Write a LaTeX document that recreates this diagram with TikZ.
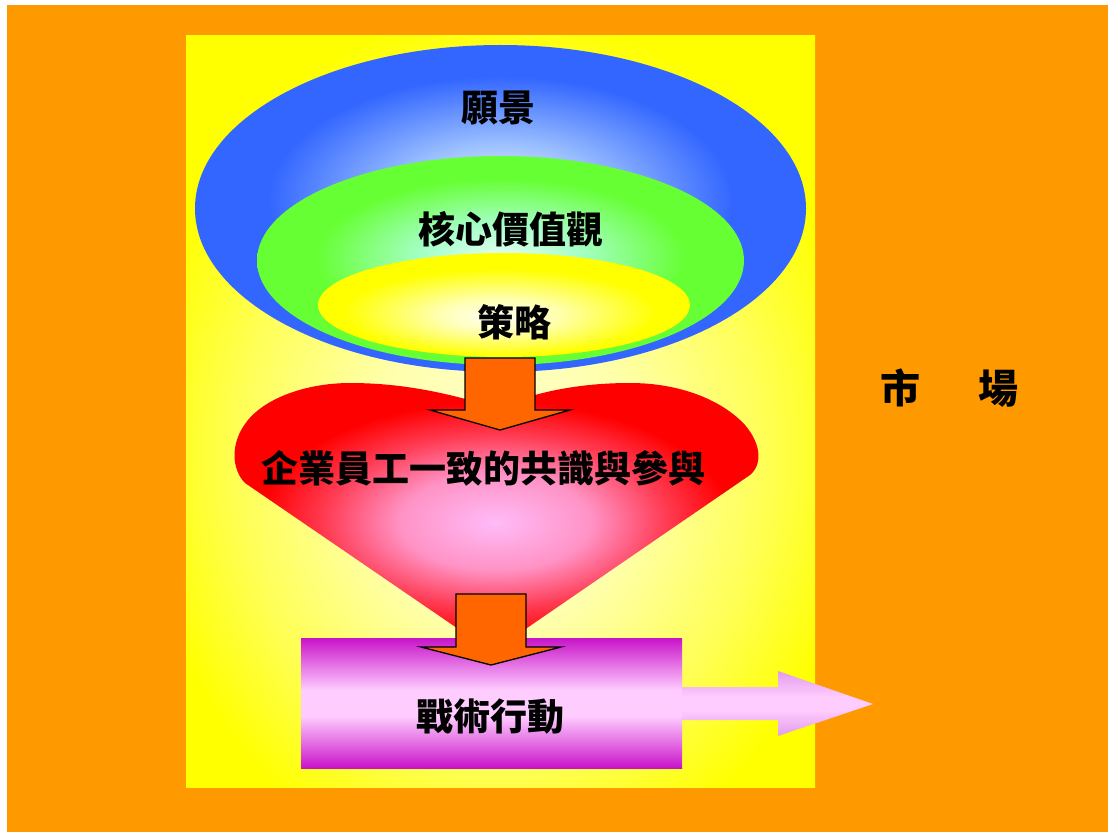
\documentclass[tikz,border=0pt]{standalone}
\usepackage{fontspec}
\newfontfamily\cjk{Noto Sans CJK TC}
\definecolor{bgorange}{HTML}{FF9900}
\definecolor{arroworange}{HTML}{FF6600}
\definecolor{blueE}{HTML}{3366FF}
\definecolor{blueM}{HTML}{9EC2FF}
\definecolor{blueC}{HTML}{EEF6FF}
\definecolor{greenE}{HTML}{66FF33}
\definecolor{greenM}{HTML}{A6FFC8}
\definecolor{greenC}{HTML}{E2FFF4}
\definecolor{yelE}{HTML}{FFFF00}
\definecolor{yelM}{HTML}{FFFFB0}
\definecolor{yelC}{HTML}{FFFFF8}
\definecolor{bgyelE}{HTML}{FFFF00}
\definecolor{bgyelO}{HTML}{FFFF55}
\definecolor{bgyelM}{HTML}{FFFFAA}
\definecolor{bgyelC}{HTML}{FFFFDA}
\definecolor{redE}{HTML}{FF0000}
\definecolor{redM}{HTML}{FF5577}
\definecolor{pinkC}{HTML}{FFBBF8}
\definecolor{purpE}{HTML}{C814C8}
\definecolor{purpC}{HTML}{FFCCFF}
\definecolor{arrowpinkE}{HTML}{E29CEA}
\pgfdeclareradialshading{bgshade}{\pgfpoint{0bp}{-5bp}}{color(0bp)=(bgyelC); color(11bp)=(bgyelM); color(21bp)=(bgyelO); color(29bp)=(bgyelE); color(50bp)=(bgyelE)}
\pgfdeclareradialshading{blueshade}{\pgfpoint{0bp}{2bp}}{color(0bp)=(blueC); color(8bp)=(blueM); color(19bp)=(blueE); color(50bp)=(blueE)}
\pgfdeclareradialshading{greenshade}{\pgfpoint{0bp}{1bp}}{color(0bp)=(greenC); color(8bp)=(greenM); color(19bp)=(greenE); color(50bp)=(greenE)}
\pgfdeclareradialshading{yelshade}{\pgfpoint{-1bp}{-6bp}}{color(0bp)=(yelC); color(8bp)=(yelM); color(21bp)=(yelE); color(50bp)=(yelE)}
\pgfdeclareradialshading{heartshade}{\pgfpoint{0bp}{-1bp}}{color(0bp)=(pinkC); color(9bp)=(pinkC!60!redM); color(16bp)=(redM!70!redE); color(22bp)=(redE); color(50bp)=(redE)}
\pgfdeclareverticalshading{purpshade}{100bp}{color(0bp)=(purpE); color(25bp)=(purpE); color(45bp)=(purpC); color(55bp)=(purpC); color(75bp)=(purpE); color(100bp)=(purpE)}
\pgfdeclareverticalshading{outshade}{100bp}{color(0bp)=(arrowpinkE); color(25bp)=(arrowpinkE); color(45bp)=(purpC); color(55bp)=(purpC); color(75bp)=(arrowpinkE); color(100bp)=(arrowpinkE)}
\tikzset{
  lbl/.style={inner sep=0pt, font=\cjk\bfseries\fontsize{37}{40}\selectfont, text=black},
  blockarrow/.style={fill=arroworange, draw=black, line width=1.3pt, line join=miter}
}
\begin{document}
\begin{tikzpicture}[x=1pt, y=-1pt]
\useasboundingbox (0,0) rectangle (1108,832);
\fill[white] (0,0) rectangle (1108,832);
\fill[bgorange] (7,5) rectangle (1108,832);
% yellow field
\shade[shading=bgshade] (186,36) rectangle (815,787);
% nested ellipses
\shade[shading=blueshade] (500.5,208.5) ellipse [x radius=305.5, y radius=163.5];
\shade[shading=greenshade] (500.5,260.5) ellipse [x radius=243.5, y radius=104.5];
\shade[shading=yelshade] (504,305) ellipse [x radius=186, y radius=52];
% heart
\shade[shading=heartshade] (492,652) -- (245,483)
  .. controls (232,470) and (229,443) .. (248,420)
  .. controls (268,396) and (310,383) .. (350,383)
  .. controls (400,383) and (445,392) .. (497,408)
  .. controls (540,390) and (585,383) .. (630,383)
  .. controls (680,383) and (722,400) .. (745,425)
  .. controls (762,445) and (762,465) .. (750,475) -- cycle;
% action box and outgoing arrow
\shade[shading=purpshade] (301,638) rectangle (682,768);
\shade[shading=outshade] (682,687) -- (778,687) -- (778,671) -- (873,704) -- (778,736) -- (778,720) -- (682,720) -- cycle;
% block arrows
\draw[blockarrow] (465,358) -- (535,358) -- (535,410) -- (570,410) -- (500,430) -- (430,410) -- (465,410) -- cycle;
\draw[blockarrow] (456,594) -- (526,594) -- (526,647) -- (561,647) -- (491,665) -- (421,647) -- (456,647) -- cycle;
% labels
\node[lbl] (vision) at (498,108) {願景};
\node[lbl] (values) at (511,229) {核心價值觀};
\node[lbl] (strategy) at (514,322) {策略};
\node[lbl] (consensus) at (483,468) {企業員工一致的共識與參與};
\node[lbl] (action) at (490,717) {戰術行動};
\node[lbl, font=\cjk\bfseries\fontsize{40}{44}\selectfont] (market) at (949,388) {市\hspace{58pt}場};
\end{tikzpicture}
\end{document}
